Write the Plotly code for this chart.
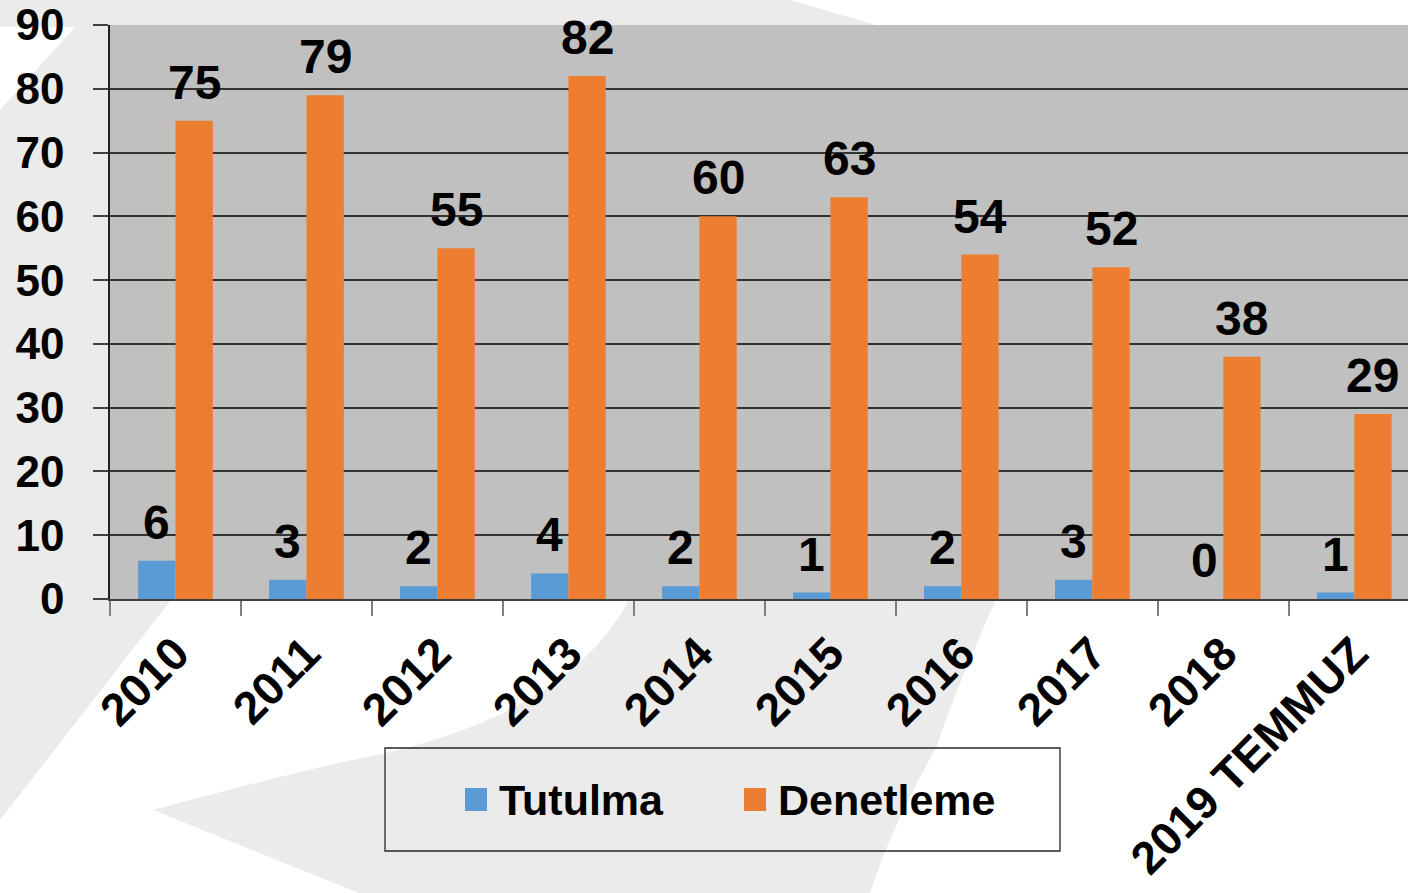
import plotly.graph_objects as go

# ---- data ----
categories = ["2010", "2011", "2012", "2013", "2014", "2015", "2016", "2017", "2018", "2019 TEMMUZ"]
tutulma = [6, 3, 2, 4, 2, 1, 2, 3, 0, 1]
denetleme = [75, 79, 55, 82, 60, 63, 54, 52, 38, 29]
series_names = ["Tutulma", "Denetleme"]
y_ticks = [0, 10, 20, 30, 40, 50, 60, 70, 80, 90]

# ---- layout geometry ----
W, H = 1408, 893
ML, MR, MT, MB = 110, 0, 25, 294
PW, PH = W - ML - MR, H - MT - MB
CAT_PX = 131          # pixel width of one category
BARGAP = 0.43
BAR_PX = CAT_PX * (1 - BARGAP) / 2

BLUE = "#5B9BD5"
ORANGE = "#ED7D31"
WM = "#EBEBEB"
PLOTBG = "#C0C0C0"
FONT = "Arial, Liberation Sans, sans-serif"


def px(x, y):
    return (x - ML) / PW, (H - MB - y) / PH


def path(points):
    s = ""
    for i, p in enumerate(points):
        if isinstance(p[0], tuple):
            (c1, c2), (e1, e2) = p
            cx, cy = px(c1, c2)
            ex, ey = px(e1, e2)
            s += f" Q{cx:.5f},{cy:.5f} {ex:.5f},{ey:.5f}"
        else:
            x, y = px(*p)
            s += (" M" if i == 0 else " L") + f"{x:.5f},{y:.5f}"
    return s.strip() + " Z"


label_font = dict(family=FONT, size=48, color="black", weight="bold")

fig = go.Figure()
fig.add_trace(go.Bar(x=categories, y=tutulma, name=series_names[0], marker_color=BLUE,
                     marker_line_width=0, showlegend=False))
fig.add_trace(go.Bar(x=categories, y=denetleme, name=series_names[1], marker_color=ORANGE,
                     marker_line_width=0, showlegend=False))

annotations = []
# data labels, placed on the data values through the axes (category index on x)
for vals, shift in [(tutulma, -BAR_PX / 2), (denetleme, BAR_PX / 2)]:
    for i, v in enumerate(vals):
        annotations.append(dict(x=i, y=v, xref="x", yref="y", text=str(v), showarrow=False,
                                xanchor="center", yanchor="bottom", xshift=shift, yshift=10,
                                font=label_font))

shapes = []
# watermark background shapes
shapes.append(dict(type="path", xref="paper", yref="paper", layer="below", line_width=0, fillcolor=WM,
                   path=path([(0, 0), (790, 0), (876, 25), (876, 600), (171, 600), (0, 820)])))
shapes.append(dict(type="path", xref="paper", yref="paper", layer="below", line_width=0, fillcolor="white",
                   path=path([(0, 27), (75, 27), (0, 110)])))
shapes.append(dict(type="path", xref="paper", yref="paper", layer="below", line_width=0, fillcolor=WM,
                   path=path([(153, 810), ((300, 770), (386, 753)), ((570, 710), (629, 600)),
                              (996, 600), ((955, 690), (937, 746)), ((890, 830), (870, 893)),
                              (359, 893)])))
# plot area background (drawn over watermark, under grid)
shapes.append(dict(type="rect", xref="paper", yref="paper", layer="below", line_width=0,
                   fillcolor=PLOTBG, x0=0, y0=0, x1=1, y1=1))
# legend box
x0, y0 = px(385, 748)
x1, y1 = px(1060, 851)
shapes.append(dict(type="rect", xref="paper", yref="paper", x0=x0, y0=y0, x1=x1, y1=y1,
                   line=dict(color="#262626", width=1.3), fillcolor="rgba(0,0,0,0)"))
for (sx, tx, color, name) in [(465, 497, BLUE, series_names[0]), (744, 776, ORANGE, series_names[1])]:
    a0, b0 = px(sx, 788)
    a1, b1 = px(sx + 22, 811)
    shapes.append(dict(type="rect", xref="paper", yref="paper", x0=a0, y0=b0, x1=a1, y1=b1,
                       line_width=0, fillcolor=color))
    ax, ay = px(tx, 800)
    annotations.append(dict(xref="paper", yref="paper", x=ax, y=ay, xanchor="left", yanchor="middle",
                            text=name, showarrow=False,
                            font=dict(family=FONT, size=43, color="black", weight="bold")))

fig.update_layout(
    width=W, height=H,
    margin=dict(l=ML, r=MR, t=MT, b=MB, autoexpand=False),
    paper_bgcolor="white",
    plot_bgcolor="rgba(0,0,0,0)",
    barmode="group",
    bargap=BARGAP,
    bargroupgap=0,
    shapes=shapes,
    annotations=annotations,
    xaxis=dict(
        type="category", range=[-0.5, 9.41], automargin=False,
        tickangle=-45, tickson="boundaries", ticks="outside", ticklen=15, tickwidth=1.5,
        tickcolor="#7F7F7F",
        tickfont=dict(family=FONT, size=46, color="black", weight="bold"),
        showline=True, linecolor="#404040", linewidth=2,
        showgrid=False, ticklabelstandoff=7,
    ),
    yaxis=dict(
        range=[0, 90], tickvals=y_ticks, ticktext=[str(v) for v in y_ticks], automargin=False,
        ticks="outside", ticklen=15, tickwidth=1.5, tickcolor="#404040",
        tickfont=dict(family=FONT, size=44, color="black", weight="bold"),
        showgrid=True, gridcolor="#333333", gridwidth=1.5,
        showline=True, linecolor="#222222", linewidth=1.5,
        zeroline=False, ticklabelstandoff=20,
    ),
)

fig.write_html("out.html", config={"displayModeBar": False},
               post_script="document.body.style.margin='0';document.body.style.overflow='hidden';")
